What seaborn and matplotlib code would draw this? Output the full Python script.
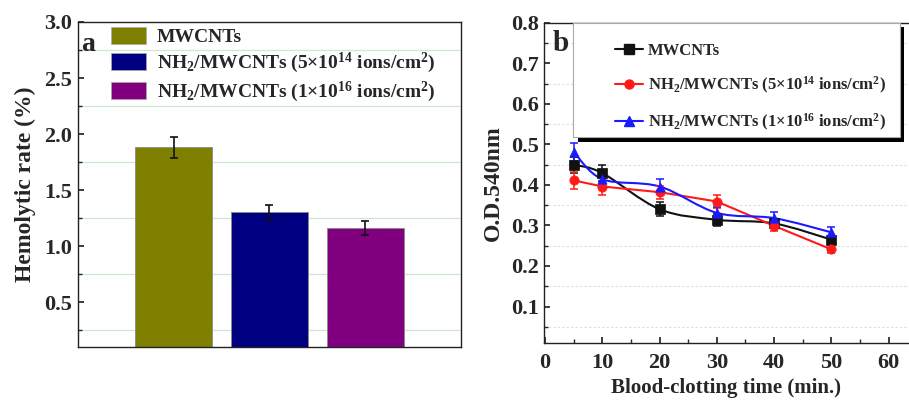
import numpy as np
import pandas as pd
import matplotlib
matplotlib.use("Agg")
import matplotlib.pyplot as plt
import seaborn as sns
from matplotlib.path import Path
from matplotlib.patches import PathPatch, Patch, Rectangle
from matplotlib.lines import Line2D
from matplotlib.ticker import MultipleLocator

# ---------------- data ----------------
bar_labels = ["MWCNTs",
              r"NH$_2$/MWCNTs (5×10$^{14}$ ions/cm$^2$)",
              r"NH$_2$/MWCNTs (1×10$^{16}$ ions/cm$^2$)"]
hemolytic = [1.88, 1.30, 1.16]
hemolytic_err = [0.095, 0.065, 0.06]
bar_colors = ["#808000", "#000080", "#800080"]

time_min = [5, 10, 20, 30, 40, 50]
od_mw = [0.450, 0.429, 0.340, 0.314, 0.305, 0.265]
od_mw_err = [0.020, 0.020, 0.017, 0.015, 0.010, 0.010]
od_5e14 = [0.411, 0.396, 0.382, 0.359, 0.299, 0.241]
od_5e14_err = [0.020, 0.020, 0.016, 0.017, 0.012, 0.010]
od_1e16 = [0.481, 0.414, 0.396, 0.331, 0.318, 0.283]
od_1e16_err = [0.022, 0.015, 0.018, 0.015, 0.015, 0.012]
line_labels = ["MWCNTs",
               r"NH$_2$/MWCNTs (5×10$^{14}$ ions/cm$^2$)",
               r"NH$_2$/MWCNTs (1×10$^{16}$ ions/cm$^2$)"]

# ---------------- style ----------------
sns.set_theme(style="ticks")
plt.rcParams["font.family"] = ["Liberation Serif", "DejaVu Serif"]
plt.rcParams["font.weight"] = "bold"
plt.rcParams["axes.labelweight"] = "bold"
plt.rcParams["mathtext.fontset"] = "custom"
plt.rcParams["mathtext.rm"] = "Liberation Serif:bold"
plt.rcParams["mathtext.bf"] = "Liberation Serif:bold"
plt.rcParams["mathtext.it"] = "Liberation Serif:bold"
plt.rcParams["mathtext.default"] = "bf"

fig = plt.figure(figsize=(9.09, 4.01), dpi=100)
axa = fig.add_axes([0.0858, 0.1347, 0.4213, 0.8105])
axb = fig.add_axes([0.5985, 0.1446, 0.4004, 0.7988])

# ---------------- panel a ----------------
dfa = pd.DataFrame({"cat": bar_labels, "val": hemolytic})
sns.barplot(data=dfa, x="cat", y="val", hue="cat", palette=bar_colors,
            width=0.8, ax=axa, legend=False, edgecolor="#8a8a8a",
            linewidth=0.6, dodge=False, saturation=1)
axa.errorbar(range(3), hemolytic, yerr=hemolytic_err, fmt="none",
             ecolor="#111111", elinewidth=1.2, capsize=3, capthick=1.2)
axa.set_xlim(-1, 3)
axa.set_ylim(0.1, 3.0)
axa.yaxis.set_minor_locator(MultipleLocator(0.25))
axa.set_yticks([0.5, 1.0, 1.5, 2.0, 2.5, 3.0])
axa.set_xticks([])
axa.set_xlabel("")
axa.set_ylabel("Hemolytic rate (%)", fontsize=17, fontweight="bold", labelpad=6)
axa.grid(False)
for v in np.arange(0.25, 3.0, 0.5):
    axa.axhline(v, color="#cfe8cf", lw=0.9, zorder=0)
axa.tick_params(axis="y", which="both", direction="in", labelsize=16, pad=4)
axa.tick_params(axis="y", which="major", length=4)
axa.tick_params(axis="y", which="minor", length=3)
for s in axa.spines.values():
    s.set_linewidth(1.0)
    s.set_color("#222222")
axa.text(-0.965, 2.80, "a", fontsize=20, fontweight="bold", va="center")
handles_a = [Patch(facecolor=c, edgecolor="#aaaaaa", linewidth=0.5) for c in bar_colors]
axa.legend(handles_a, bar_labels, loc="upper left", bbox_to_anchor=(0.067, 1.01),
           frameon=False, fontsize=14, handlelength=1.8, handleheight=1.0,
           labelspacing=0.25, handletextpad=0.55, borderaxespad=0.0)

# ---------------- panel b ----------------
def smooth_path(x, y):
    pts = np.column_stack([x, y]).astype(float)
    n = len(pts)
    verts = [pts[0]]
    codes = [Path.MOVETO]
    for i in range(n - 1):
        p0 = pts[i - 1] if i > 0 else pts[i]
        p1 = pts[i]
        p2 = pts[i + 1]
        p3 = pts[i + 2] if i + 2 < n else pts[i + 1]
        c1 = p1 + (p2 - p0) / 6.0
        c2 = p2 - (p3 - p1) / 6.0
        verts += [c1, c2, p2]
        codes += [Path.CURVE4] * 3
    return Path(verts, codes)

series = [
    (od_mw, od_mw_err, "#111111", "s", True),
    (od_5e14, od_5e14_err, "#ff1a1a", "o", False),
    (od_1e16, od_1e16_err, "#1a1aff", "^", True),
]
for vals, errs, col, mk, smooth in series:
    if smooth:
        axb.add_patch(PathPatch(smooth_path(time_min, vals), facecolor="none",
                                edgecolor=col, lw=1.5, zorder=3))
    else:
        sns.lineplot(x=time_min, y=vals, color=col, lw=1.5, ax=axb, zorder=3)
    axb.errorbar(time_min, vals, yerr=errs, fmt="none", ecolor=col,
                 elinewidth=1.1, capsize=3, capthick=1.1, zorder=4)
    sns.scatterplot(x=time_min, y=vals, color=col, marker=mk, s=45,
                    edgecolor=col, linewidth=0.5, ax=axb, zorder=5)

axb.set_xlim(-0.2, 63.4)
axb.set_ylim(0.01, 0.8)
axb.set_xticks([0, 10, 20, 30, 40, 50, 60])
axb.set_yticks([0.1, 0.2, 0.3, 0.4, 0.5, 0.6, 0.7, 0.8])
axb.xaxis.set_minor_locator(MultipleLocator(5))
axb.yaxis.set_minor_locator(MultipleLocator(0.05))
axb.grid(False)
for v in np.arange(0.05, 0.8, 0.1):
    axb.axhline(v, color="#dddddd", lw=0.8, ls=(0, (2, 2)), zorder=0)
axb.tick_params(which="both", direction="in", labelsize=16)
axb.tick_params(axis="x", pad=7)
axb.tick_params(which="major", length=4)
axb.tick_params(which="minor", length=3)
axb.set_xlabel("Blood-clotting time (min.)", fontsize=15, fontweight="bold", labelpad=4)
axb.set_ylabel("O.D.540nm", fontsize=17, fontweight="bold", labelpad=5)
for s in axb.spines.values():
    s.set_linewidth(1.0)
    s.set_color("#222222")
axb.spines["right"].set_visible(False)
axb.text(1.3, 0.748, "b", fontsize=21, fontweight="bold", va="center")

# legend frame with black shadow
frame_x0, frame_y0, frame_w, frame_h = 0.08, 0.643, 0.898, 0.357
axb.add_patch(Rectangle((frame_x0 + 0.012, frame_y0 - 0.014), frame_w, frame_h,
                        transform=axb.transAxes, facecolor="black",
                        edgecolor="none", zorder=6, clip_on=False))
axb.add_patch(Rectangle((frame_x0, frame_y0), frame_w, frame_h,
                        transform=axb.transAxes, facecolor="white",
                        edgecolor="#aaaaaa", lw=0.8, zorder=7, clip_on=False))
handles_b = [Line2D([0], [0], color=c, marker=m, lw=1.5, markersize=6.5)
             for _, _, c, m, _ in series]
leg = axb.legend(handles_b, line_labels, loc="upper left",
                 bbox_to_anchor=(0.195, 0.937), fontsize=12, frameon=False,
                 handlelength=1.65, handletextpad=0.3, labelspacing=0.95,
                 borderpad=0.0, borderaxespad=0.0)
leg.set_zorder(8)

fig.savefig("out.png", dpi=100)
